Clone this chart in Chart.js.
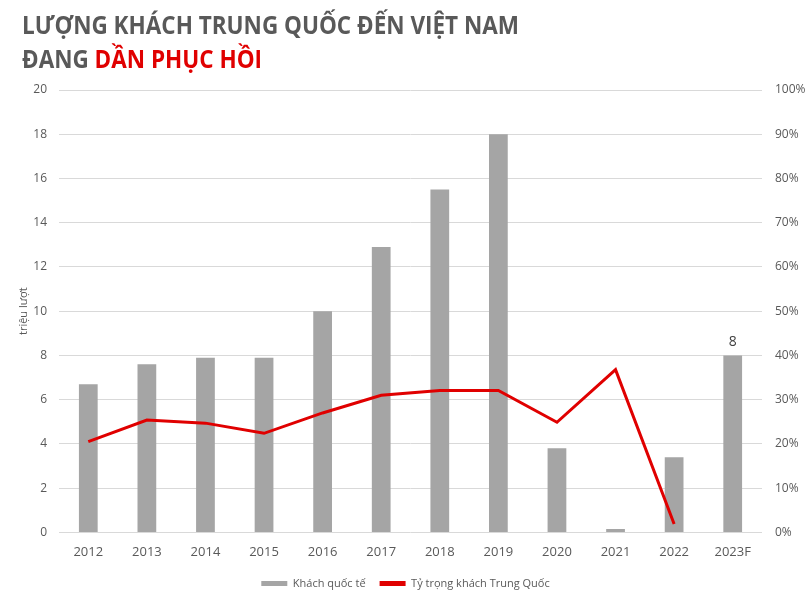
<!DOCTYPE html>
<html><head><meta charset="utf-8">
<script src="https://cdn.jsdelivr.net/npm/chart.js@4.4.1/dist/chart.umd.min.js"></script>
<style>
html,body{margin:0;padding:0;background:#fff;}
#wrap{position:relative;width:811px;height:599px;overflow:hidden;}
#title{position:absolute;left:22px;top:7px;font-family:"Open Sans",sans-serif;font-weight:700;font-size:25px;line-height:34px;color:#595959;white-space:nowrap;transform:scaleX(0.9);transform-origin:left top;}
.red{color:#e00000;}
canvas{position:absolute;left:0;top:0;}
</style></head><body>
<div id="wrap"><canvas id="c" width="811" height="599"></canvas>
<div id="title">LƯỢNG KHÁCH TRUNG QUỐC ĐẾN VIỆT NAM<br>ĐANG <span class="red">DẦN PHỤC HỒI</span></div></div>
<script>
const years = ['2012','2013','2014','2015','2016','2017','2018','2019','2020','2021','2022','2023F'];
const intlVisitors = [6.7, 7.6, 7.9, 7.9, 10.0, 12.9, 15.5, 18.0, 3.8, 0.15, 3.4, 8];
const chinaShare = [0.205, 0.254, 0.247, 0.224, 0.270, 0.310, 0.321, 0.321, 0.249, 0.368, 0.019, null];
const seriesNames = ['Khách quốc tế', 'Tỷ trọng khách Trung Quốc'];
const yTitle = 'triệu lượt';
const labelledIndex = [11];

const FONT = '"Open Sans", sans-serif';
const GREY = '#595959';

const valueLabels = {
  id: 'valueLabels',
  afterDatasetsDraw(chart) {
    const meta = chart.getDatasetMeta(0);
    const ctx = chart.ctx;
    ctx.save();
    ctx.font = '14px ' + FONT;
    ctx.fillStyle = '#404040';
    ctx.textAlign = 'center';
    ctx.textBaseline = 'bottom';
    labelledIndex.forEach(i => {
      const el = meta.data[i];
      ctx.fillText(String(intlVisitors[i]), el.x, el.y - 6);
    });
    ctx.restore();
  }
};

new Chart(document.getElementById('c'), {
  data: {
    labels: years,
    datasets: [
      {type: 'bar', label: seriesNames[0], data: intlVisitors, backgroundColor: '#a5a5a5',
       yAxisID: 'y', order: 1, barPercentage: 0.8, categoryPercentage: 0.4},
      {type: 'line', label: seriesNames[1], data: chinaShare, borderColor: '#e00000', backgroundColor: '#e00000',
       borderWidth: 3, pointRadius: 0, tension: 0, yAxisID: 'y1', order: 0, spanGaps: false}
    ]
  },
  options: {
    responsive: false,
    animation: false,
    layout: {padding: {top: 90, left: 0, right: 0, bottom: 0}},
    plugins: {
      tooltip: {enabled: false},
      legend: {
        position: 'bottom',
        labels: {
          font: {family: FONT, size: 11}, color: GREY, boxWidth: 26, boxHeight: 5, padding: 14,
          sort: (a, b) => a.datasetIndex - b.datasetIndex,
          generateLabels(chart) {
            const items = Chart.defaults.plugins.legend.labels.generateLabels(chart);
            items.forEach(it => { it.lineWidth = 0; it.strokeStyle = 'rgba(0,0,0,0)'; });
            return items;
          }
        }
      }
    },
    scales: {
      x: {
        grid: {display: false}, border: {display: false},
        ticks: {font: {family: FONT, size: 13}, color: GREY, padding: 4}
      },
      y: {
        position: 'left', min: 0, max: 20,
        grid: {color: '#d9d9d9', drawTicks: false}, border: {display: false},
        ticks: {stepSize: 2, font: {family: FONT, size: 12}, color: GREY, padding: 12},
        title: {display: true, text: yTitle, font: {family: FONT, size: 11}, color: GREY, padding: {top: 17, bottom: 0}},
        afterFit(s) { s.width = 59; }
      },
      y1: {
        position: 'right', min: 0, max: 1,
        grid: {display: false}, border: {display: false},
        ticks: {stepSize: 0.1, font: {family: FONT, size: 12}, color: GREY, padding: 5,
          callback: v => Math.round(v * 100) + '%'},
        afterFit(s) { s.width = 49; }
      }
    }
  },
  plugins: [valueLabels]
});
</script>
</body></html>
